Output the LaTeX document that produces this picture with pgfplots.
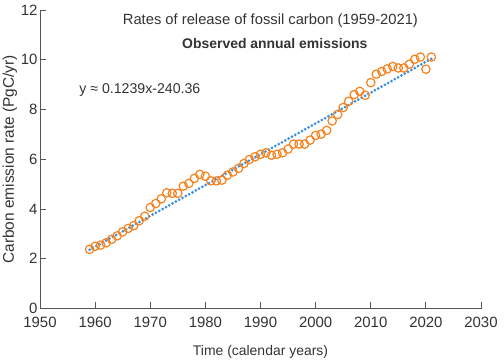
\documentclass[border=0pt]{standalone}
\usepackage{pgfplots}
\pgfplotsset{compat=1.18}
\usepackage{fontspec}
\setmainfont{Liberation Sans}
\definecolor{mkorange}{HTML}{F5821F}
\definecolor{fitblue}{HTML}{3A8EDB}
\definecolor{txt}{HTML}{333333}
\definecolor{axc}{HTML}{555555}
\begin{document}
\begin{tikzpicture}
\path[use as bounding box] (-40bp,-51.5bp) rectangle (464bp,308.5bp);
\begin{axis}[
  scale only axis,
  width=441bp, height=298.5bp,
  xmin=1950, xmax=2030, ymin=0, ymax=12,
  axis x line=bottom, axis y line=left,
  axis line style={axc, line width=0.8pt, -},
  xtick={1950,1960,...,2030},
  ytick={0,2,...,12},
  tick align=inside,
  major tick length=6bp,
  tick style={axc, line width=0.8pt},
  /pgf/number format/assume math mode=true,
  /pgf/number format/1000 sep={},
  ticklabel style={font=\fontsize{15}{17}\selectfont, text=txt},
  xticklabel style={yshift=-5bp},
  yticklabel style={xshift=1bp},
  xlabel={Time (calendar years)},
  ylabel={Carbon emission rate (PgC/yr)},
  xlabel style={font=\fontsize{14}{16}\selectfont, text=txt, yshift=-11bp},
  ylabel style={font=\fontsize{15.5}{17}\selectfont, text=txt, yshift=-3bp},
  clip=false,
]
\addplot[fitblue, line width=3bp, line cap=round, dash pattern=on 0pt off 3.8bp]
  coordinates {(1959,2.36) (2021,10.04)};
\addplot[only marks, mark=o, mark size=4.2bp, mark options={mkorange, line width=1.2bp}]
  coordinates {
(1959,2.38) (1960,2.50) (1961,2.55) (1962,2.64) (1963,2.78) (1964,2.92)
(1965,3.08) (1966,3.22) (1967,3.33) (1968,3.53) (1969,3.71) (1970,4.06)
(1971,4.22) (1972,4.41) (1973,4.65) (1974,4.63) (1975,4.63) (1976,4.92)
(1977,5.03) (1978,5.23) (1979,5.39) (1980,5.32) (1981,5.13) (1982,5.13)
(1983,5.16) (1984,5.36) (1985,5.49) (1986,5.63) (1987,5.83) (1988,5.99)
(1989,6.10) (1990,6.20) (1991,6.26) (1992,6.16) (1993,6.20) (1994,6.26)
(1995,6.41) (1996,6.61) (1997,6.61) (1998,6.61) (1999,6.77) (2000,6.96)
(2001,7.01) (2002,7.16) (2003,7.54) (2004,7.80) (2005,8.08) (2006,8.33)
(2007,8.60) (2008,8.73) (2009,8.57) (2010,9.08) (2011,9.42) (2012,9.53)
(2013,9.63) (2014,9.73) (2015,9.67) (2016,9.67) (2017,9.82) (2018,10.02)
(2019,10.11) (2020,9.62) (2021,10.11)
  };
\node[font=\fontsize{14.8}{17}\selectfont, text=txt] at (axis cs:1991.8,11.57) {Rates of release of fossil carbon (1959-2021)};
\node[font=\fontsize{14}{16}\selectfont\bfseries, text=txt] at (axis cs:1992.6,10.67) {Observed annual emissions};
\node[font=\fontsize{14.2}{16}\selectfont, text=txt, anchor=west] at (axis cs:1956.5,8.8) {y ≈ 0.1239x-240.36};
\end{axis}
\end{tikzpicture}
\end{document}
